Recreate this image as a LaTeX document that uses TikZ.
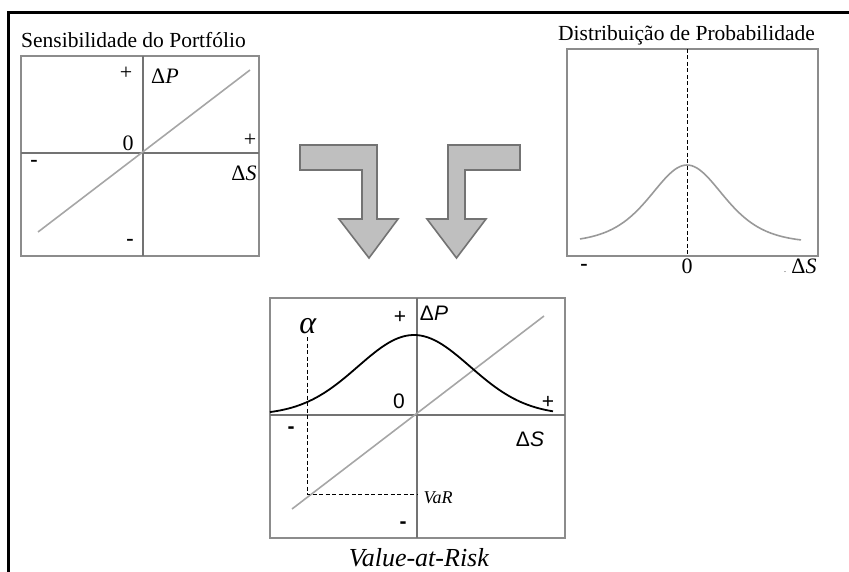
\documentclass[tikz,border=0pt]{standalone}
\usepackage{fontspec}
\setmainfont{Liberation Serif}
\newfontfamily\sansf{Liberation Sans}
\begin{document}
\begin{tikzpicture}[x=1pt,y=-1pt,
  panel/.style={draw=black!45,line width=2.4pt},
  axis/.style={draw=black!55,line width=1.4pt},
  diag/.style={draw=black!35,line width=1.6pt},
  bigarrow/.style={fill=black!25,draw=black!55,line width=1.6pt,line join=miter},
  lbl/.style={inner sep=0pt,font=\fontsize{22}{26}\selectfont},
  slbl/.style={inner sep=0pt,font=\sansf\fontsize{21}{24}\selectfont},
  title/.style={inner sep=0pt,anchor=base west,font=\fontsize{21.5}{25}\selectfont},
  dsh/.style={draw=black,line width=0.9pt,dash pattern=on 4pt off 2.5pt}]
\useasboundingbox (0,0) rectangle (849,572);
% outer frame
\draw[line width=2.5pt] (8.5,572) -- (8.5,12.5) -- (849,12.5);

% ---- left panel: portfolio sensitivity
\node[title] (t1) at (21,48) {Sensibilidade do Portfólio};
\draw[panel] (21,56) rectangle (259,256);
\draw[axis] (143,56) -- (143,256);
\draw[axis] (21,153) -- (259,153);
\draw[diag] (38,232) -- (250,70);
\node[lbl] (l1) at (126,73) {+};
\node[lbl] (l2) at (165,76) {Δ\textit{P}};
\node[lbl] (l3) at (128,143) {0};
\node[lbl] (l4) at (250,140) {+};
\node[lbl] (l5) at (34,163) {\textbf{-}};
\node[lbl] (l6) at (244,173) {Δ\textit{S}};
\node[lbl] (l7) at (130,242) {\textbf{-}};

% ---- right panel: distribution
\node[title] (t2) at (558,41) {Distribuição de Probabilidade};
\draw[panel] (567,49) rectangle (818,256);
\draw[dsh] (687,49) -- (687,256);
\draw[draw=black!40,line width=1.6pt,domain=580:801,samples=90]
  plot (\x,{243-78/(cosh((\x-687)/49.5)^2)});
\node[lbl] (r1) at (584,267) {\textbf{-}};
\node[lbl] (r2) at (687,266) {0};
\node[lbl] (r3) at (804,266) {Δ\textit{S}};
\node[inner sep=0pt,font=\fontsize{8}{8}\selectfont] (r4) at (785,272) {.};

% ---- arrows
\draw[bigarrow] (300,145) -- (377,145) -- (377,219) -- (398,219) -- (369,258)
  -- (339,219) -- (362,219) -- (362,170) -- (300,170) -- cycle;
\draw[bigarrow] (520,145) -- (448,145) -- (448,219) -- (427,219) -- (456.5,258)
  -- (486,219) -- (465,219) -- (465,170) -- (520,170) -- cycle;

% ---- bottom panel: value at risk
\draw[panel] (270,298) rectangle (565,538);
\draw[axis] (417,298) -- (417,538);
\draw[axis] (270,415) -- (565,415);
\draw[diag] (292,509) -- (544,316);
\draw[line width=1.8pt,domain=270:553,samples=80] plot (\x,{415-80*exp(-((\x-414)/56)^2/2)});
\coordinate (atop) at (307,337);
\coordinate (acorner) at (307,494);
\coordinate (avar) at (417,494);
\draw[dsh] (atop) -- (acorner) -- (avar);
\node[inner sep=0pt,font=\fontsize{32}{34}\selectfont] (alpha) at (308,326) {\textit{α}};
\node[slbl] (b1) at (400,317) {+};
\node[slbl] (b2) at (434,313) {Δ\textit{P}};
\node[slbl] (b3) at (399,401) {0};
\node[slbl] (b4) at (548,402) {+};
\node[slbl] (b5) at (291,430) {\textbf{-}};
\node[slbl] (b6) at (530,439) {Δ\textit{S}};
\node[slbl] (b7) at (403,525) {\textbf{-}};
\node[inner sep=0pt,font=\fontsize{18}{20}\selectfont] (var) at (438,498) {\textit{VaR}};
\node[inner sep=0pt,font=\fontsize{26}{28}\selectfont] (vtitle) at (419,558) {\textit{Value-at-Risk}};
\end{tikzpicture}
\end{document}
